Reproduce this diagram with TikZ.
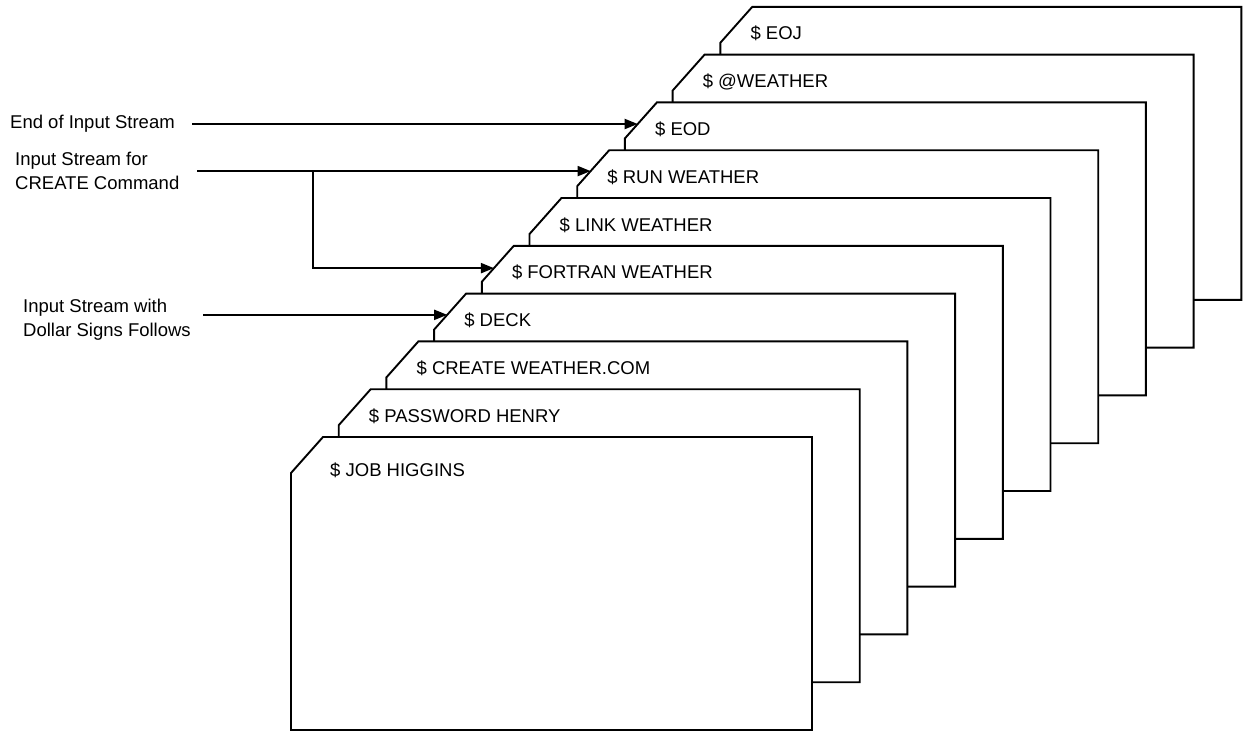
\documentclass[tikz,border=0pt]{standalone}
\usepackage{fontspec}
\setmainfont{Liberation Sans}
\usetikzlibrary{positioning,arrows.meta,calc}

\begin{document}
\begin{tikzpicture}[
  x=1pt, y=-1pt,
  card/.style={draw=black, fill=white, line width=1.9pt, line join=miter},
  cardtext/.style={anchor=base west, inner sep=0pt, font=\fontsize{18.5}{24}\selectfont},
  lbl/.style={anchor=north west, inner sep=0pt, align=left, font=\fontsize{18.5}{24}\selectfont},
  arrow/.style={-{Triangle[length=13pt,width=10pt]}, line width=1.9pt, line join=miter}
]
  \useasboundingbox (0,0) rectangle (1243,732);

  % card deck, back to front
  \foreach \i/\dx/\dy/\txt in {9/30/33/EOJ, 8/30/33/@WEATHER, 7/30/33/EOD,
      6/30/33/RUN WEATHER, 5/30/33/LINK WEATHER, 4/30/33/FORTRAN WEATHER,
      3/30/33/DECK, 2/30/33/CREATE WEATHER.COM, 1/30/33/PASSWORD HENRY,
      0/39/39.5/JOB HIGGINS} {
    \coordinate (tl\i) at ({291+47.7*\i},{437-47.8*\i});
    \draw[card] (tl\i) ++(0,36) coordinate (cb\i) -- ++(32,-36) coordinate (ct\i)
      -- ++(489,0) -- ++(0,293) -- ++(-521,0) -- cycle;
    \node[cardtext] (card\i) at ($(tl\i)+(\dx,\dy)$) {\$ \txt};
  }

  % side labels
  \node[lbl] (eoi) at (10,115) {End of Input Stream};
  \node[lbl] (create) at (15,151.5) {Input Stream for\\CREATE Command};
  \node[lbl] (dollar) at (23,298.5) {Input Stream with\\Dollar Signs Follows};

  % arrow ends on the card corners
  \coordinate (tip1) at ($(cb7)!0.4!(ct7)$);
  \coordinate (tip2) at ($(cb6)!0.42!(ct6)$);
  \coordinate (tip3) at ($(cb4)!0.38!(ct4)$);
  \coordinate (tip4) at ($(cb3)!0.41!(ct3)$);
  \coordinate (from1) at (tip1 -| 192,0);
  \coordinate (from2) at (tip2 -| 197,0);
  \coordinate (from4) at (tip4 -| 203,0);
  \coordinate (split) at (tip2 -| 313,0);

  \draw[arrow] (from1) -- (tip1);
  \draw[arrow] (from2) -- (tip2);
  \draw[arrow] (split) |- (tip3);
  \draw[arrow] (from4) -- (tip4);
\end{tikzpicture}
\end{document}
